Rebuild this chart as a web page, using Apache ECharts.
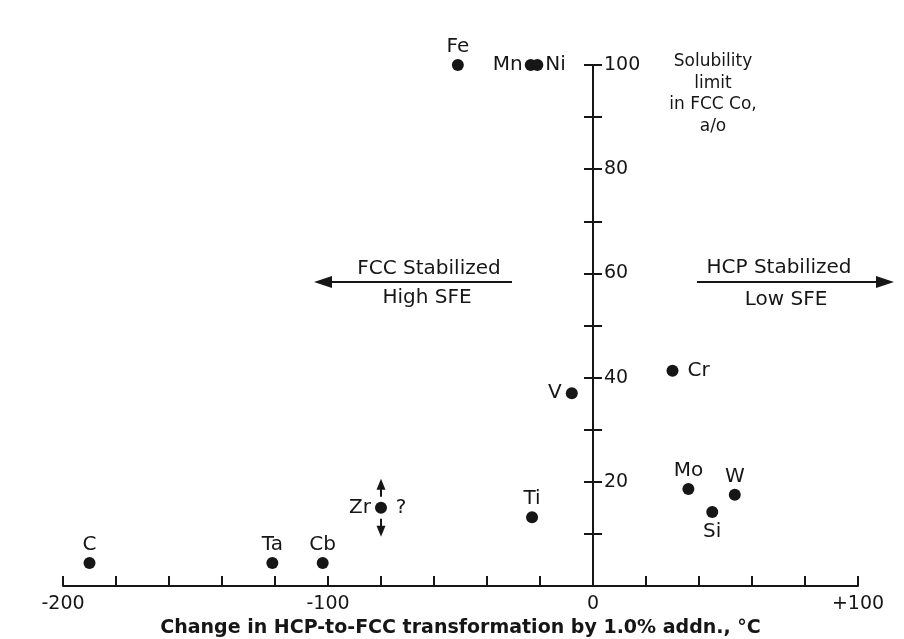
<!DOCTYPE html>
<html>
<head>
<meta charset="utf-8">
<script src="https://cdn.jsdelivr.net/npm/echarts@6/dist/echarts.min.js"></script>
<style>
html, body { margin: 0; background: #fff; }
#main { width: 904px; height: 639px; }
</style>
</head>
<body>
<div id="main"></div>
<script>
// alloying elements in Co
var elements = ['C', 'Ta', 'Cb', 'Zr', 'Ti', 'V', 'Fe', 'Mn', 'Ni', 'Cr', 'Mo', 'Si', 'W'];
var deltaT = [-190, -121, -102, -80, -23, -8, -51, -23.5, -21, 30, 36, 45, 53.5];
var solubility = [4.4, 4.4, 4.4, 15, 13.2, 37, 100, 100, 100, 41.3, 18.6, 14.2, 17.5];

var xTickValues = [-200, -100, 0, 100];
var xTickLabels = ['-200', '-100', '0', '+100'];
var yTickValues = [20, 40, 60, 80, 100];

var ink = '#161616';
var font = 'DejaVu Sans';
var gridLeft = 63, gridRight = 46, chartW = 904;

// where each element's name sits relative to its dot
var labelSide = {
	C: 'top', Ta: 'top', Cb: 'top', Zr: 'left', Ti: 'top', V: 'left', Fe: 'top',
	Mn: 'left', Ni: 'right', Cr: 'right', Mo: 'top', Si: 'bottom', W: 'top'
};
var labelGap = { Mn: 2, Ni: 2, Zr: 4, V: 4, Cr: 9 };

var points = elements.map(function(name, i) {
	var side = labelSide[name];
	return {
		name: name,
		value: [deltaT[i], solubility[i]],
		label: {
			position: side,
			distance: labelGap[name] != null ? labelGap[name] : (side == 'bottom' ? 4 : 2)
		}
	};
});

// the vertical axis stands at x = 0, not at the left edge
var xMin = -200, xMax = 100;
var yAxisOffset = -(0 - xMin) / (xMax - xMin) * (chartW - gridLeft - gridRight);

var yAxisBase = {
	type: 'value',
	min: 0,
	max: 100,
	interval: 10,
	position: 'left',
	offset: yAxisOffset,
	splitLine: { show: false },
	axisLine: { show: true, onZero: false, lineStyle: { color: ink, width: 2 } }
};

var option = {
	backgroundColor: '#fff',
	animation: false,
	grid: { left: gridLeft, right: gridRight, top: 65, bottom: 53, outerBoundsMode: 'none', containLabel: false },
	xAxis: {
		type: 'value',
		min: xMin,
		max: xMax,
		interval: 20,
		splitLine: { show: false },
		axisLine: { onZero: true, lineStyle: { color: ink, width: 2 } },
		axisTick: { inside: true, length: 10, lineStyle: { color: ink, width: 2 } },
		axisLabel: {
			color: ink,
			fontFamily: font,
			fontSize: 19,
			margin: 9,
			formatter: function(v) {
				var k = xTickValues.indexOf(v);
				return k < 0 ? '' : xTickLabels[k];
			}
		},
		name: 'Change in HCP-to-FCC transformation by 1.0% addn., \u00b0C',
		nameLocation: 'middle',
		nameGap: 33,
		nameTextStyle: { color: ink, fontFamily: font, fontSize: 19, fontWeight: 'bold' }
	},
	series: [{
		type: 'scatter',
		symbolSize: 12,
		itemStyle: { color: ink, opacity: 1 },
		label: {
			show: true,
			formatter: '{b}',
			color: ink,
			fontFamily: font,
			fontSize: 20
		},
		data: points
	}]
};

option.yAxis = [
	Object.assign({}, yAxisBase, {
		axisTick: { inside: true, length: 9, lineStyle: { color: ink, width: 2 } },
		axisLabel: {
			inside: true,
			margin: 11,
			color: ink,
			fontFamily: font,
			fontSize: 19,
			formatter: function(v) {
				return yTickValues.indexOf(v) < 0 ? '' : String(v);
			}
		}
	}),
	Object.assign({}, yAxisBase, {
		axisTick: { inside: false, length: 9, lineStyle: { color: ink, width: 2 } },
		axisLabel: { show: false }
	})
];

var myChart = echarts.init(document.getElementById('main'));
myChart.setOption(option);

// annotations: text blocks and the two stabilization arrows
function txt(x, y, s, size, lh) {
	return {
		type: 'text',
		x: x, y: y,
		style: {
			text: s, fill: ink, font: (size || 20) + 'px "' + font + '"',
			textAlign: 'center', textVerticalAlign: 'middle', lineHeight: lh || 21
		}
	};
}
function arrow(x1, x2, y) {
	var dir = x2 > x1 ? 1 : -1;
	return [{
		type: 'line',
		shape: { x1: x1, y1: y, x2: x2 - dir * 10, y2: y },
		style: { stroke: ink, lineWidth: 2 }
	}, {
		type: 'polygon',
		shape: { points: [[x2, y], [x2 - dir * 18, y - 6], [x2 - dir * 18, y + 6]] },
		style: { fill: ink }
	}];
}

var zr = myChart.convertToPixel({ gridIndex: 0 }, [deltaT[3], solubility[3]]);
var g = [
	txt(713, 94, 'Solubility\nlimit\nin FCC Co,\na/o', 17, 21.5),
	txt(429, 269, 'FCC Stabilized'),
	txt(427, 298, 'High SFE'),
	txt(779, 268, 'HCP Stabilized'),
	txt(786, 300, 'Low SFE'),
	txt(zr[0] + 20, zr[1], '?', 20)
].concat(arrow(512, 314, 282), arrow(697, 894, 282));

// Zr: value uncertain, up and down arrows
g.push({ type: 'line', shape: { x1: zr[0], y1: zr[1] - 11, x2: zr[0], y2: zr[1] - 20 }, style: { stroke: ink, lineWidth: 2 } });
g.push({ type: 'polygon', shape: { points: [[zr[0], zr[1] - 29], [zr[0] - 4.5, zr[1] - 18], [zr[0] + 4.5, zr[1] - 18]] }, style: { fill: ink } });
g.push({ type: 'line', shape: { x1: zr[0], y1: zr[1] + 11, x2: zr[0], y2: zr[1] + 20 }, style: { stroke: ink, lineWidth: 2 } });
g.push({ type: 'polygon', shape: { points: [[zr[0], zr[1] + 29], [zr[0] - 4.5, zr[1] + 18], [zr[0] + 4.5, zr[1] + 18]] }, style: { fill: ink } });

myChart.setOption({ graphic: g });
</script>
</body>
</html>
